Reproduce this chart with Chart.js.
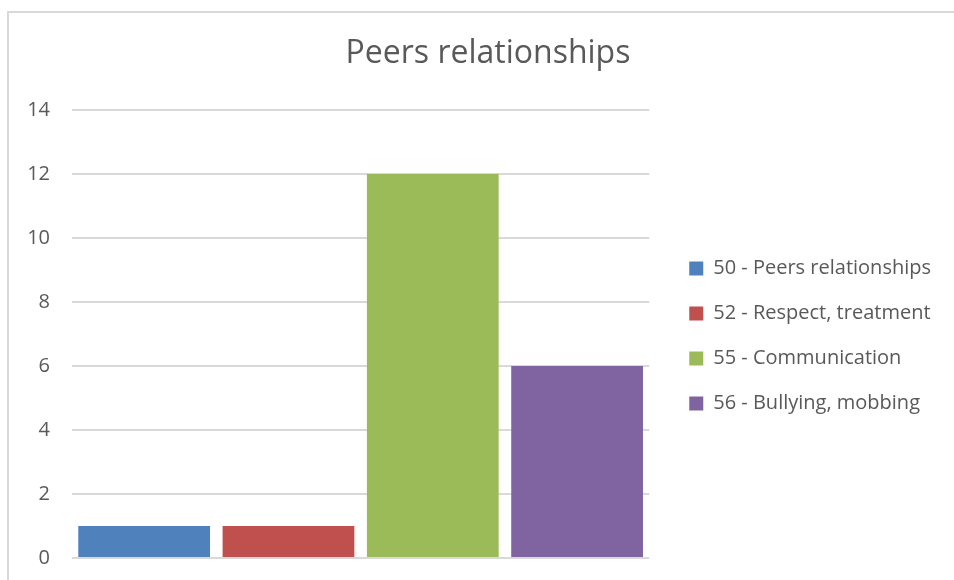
<!DOCTYPE html>
<html>
<head>
<meta charset="utf-8">
<script src="https://cdn.jsdelivr.net/npm/chart.js@4/dist/chart.umd.min.js"></script>
<style>
  html, body { margin: 0; padding: 0; background: #ffffff; }
  #frame {
    position: absolute; left: 0; top: 0; width: 954px; height: 580px; overflow: hidden;
  }
  #edge {
    position: absolute; left: 7px; top: 11px; width: 960px; height: 600px;
    border-left: 2px solid #d9d9d9; border-top: 2px solid #d9d9d9;
  }
  canvas { position: absolute; left: 0; top: 0; }
</style>
</head>
<body>
<div id="frame">
  <div id="edge"></div>
  <canvas id="chart" width="954" height="580"></canvas>
</div>
<script>
// Survey topics and how many responses fell into each
const chartTitle = 'Peers relationships';
const seriesNames = ['50 - Peers relationships', '52 - Respect, treatment', '55 - Communication', '56 - Bullying, mobbing'];
const seriesValues = [1, 1, 12, 6];
const seriesColors = ['#4f81bd', '#c0504d', '#9bbb59', '#8064a2'];
const yTickValues = [0, 2, 4, 6, 8, 10, 12, 14];

const FONT = '"Open Sans", Lato, sans-serif';
const TEXT = '#595959';

const datasets = seriesNames.map((name, i) => ({
  label: name,
  data: [seriesValues[i]],
  backgroundColor: seriesColors[i],
  borderWidth: 0,
  barPercentage: 0.913,
  categoryPercentage: 1.0
}));

// Temporarily moves a layout box while it draws
function drawShifted(box, place) {
  const draw = box.draw.bind(box);
  box.draw = function () {
    const saved = { left: this.left, right: this.right, top: this.top, bottom: this.bottom };
    place(this);
    draw();
    Object.assign(this, saved);
  };
}

// Legend column sits just right of the plot, centred on it; title is centred on the framed panel
const boxPlacement = {
  id: 'boxPlacement',
  afterInit(chart, args, opts) {
    if (chart.legend) {
      drawShifted(chart.legend, (b) => {
        const area = chart.chartArea;
        const w = b.right - b.left;
        b.left = area.right + opts.legendGap;
        b.right = b.left + w;
        b.top = area.top + opts.legendDrop;
        b.bottom = area.bottom + opts.legendDrop;
      });
    }
    if (chart.titleBlock) {
      drawShifted(chart.titleBlock, (b) => {
        b.left += opts.titleShift;
        b.right += opts.titleShift;
      });
    }
  }
};

new Chart(document.getElementById('chart'), {
  type: 'bar',
  data: { labels: [''], datasets },
  plugins: [boxPlacement],
  options: {
    responsive: false,
    animation: false,
    layout: { padding: { left: 0, right: 28, top: 0, bottom: 22 } },
    plugins: {
      boxPlacement: { legendGap: 15, legendDrop: 2, titleShift: 25 },
      title: {
        display: true,
        text: chartTitle,
        color: TEXT,
        font: { family: FONT, size: 32, weight: 'normal' },
        padding: { top: 35, bottom: 36.6 }
      },
      legend: {
        position: 'right',
        align: 'center',
        maxWidth: 500,
        labels: {
          boxWidth: 14,
          boxHeight: 14,
          padding: 25,
          color: TEXT,
          font: { family: FONT, size: 20 }
        }
      },
      tooltip: { enabled: false }
    },
    scales: {
      x: {
        display: false
      },
      y: {
        min: 0,
        max: 14,
        afterBuildTicks: (scale) => { scale.ticks = yTickValues.map(v => ({ value: v })); },
        afterFit: (scale) => {
          scale.width = 72;
          // the label gap is horizontal only; keep it out of the vertical padding
          scale.paddingBottom = 0;
        },
        grid: { color: '#d9d9d9', lineWidth: 2, drawTicks: false },
        border: { display: false },
        ticks: {
          padding: 22,
          color: TEXT,
          font: { family: FONT, size: 20 }
        }
      }
    }
  }
});
</script>
</body>
</html>
